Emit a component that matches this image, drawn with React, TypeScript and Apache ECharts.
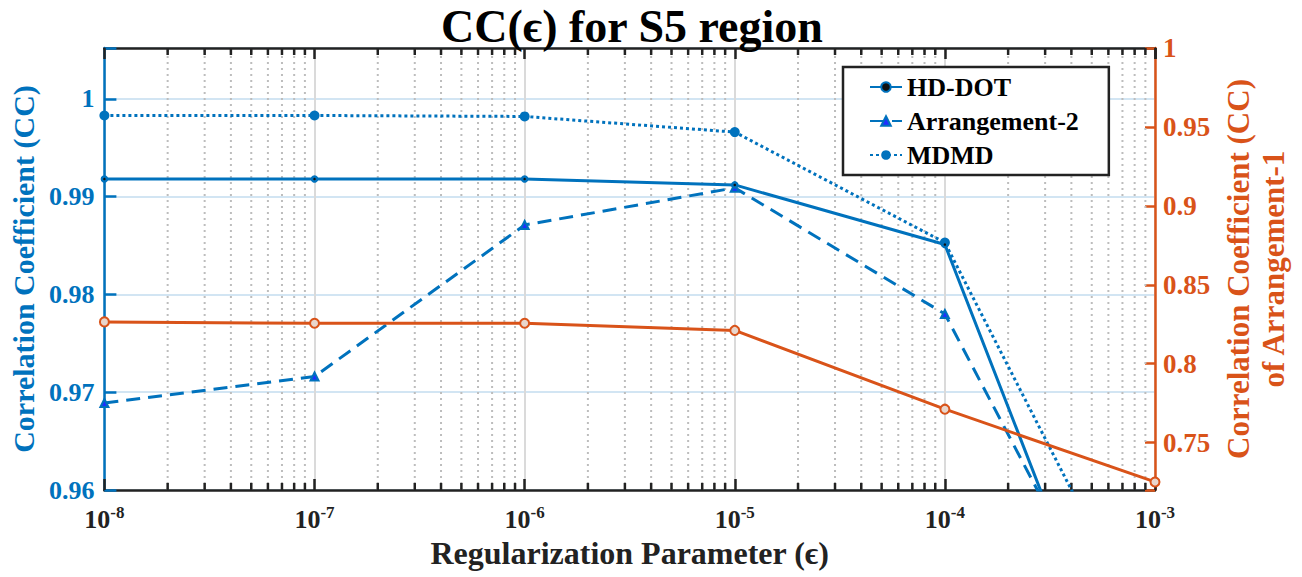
import React, { useEffect, useRef } from 'react';
import * as echarts from 'echarts';

// Regularization parameter values (x) and correlation coefficients per method
const EPSILON = [1e-8, 1e-7, 1e-6, 1e-5, 1e-4, 1e-3];
const HD_DOT = [0.9918, 0.9918, 0.9918, 0.9912, 0.9851, 0.9299];
const ARRANGEMENT_2 = [0.9689, 0.9716, 0.9871, 0.9909, 0.978, 0.9371];
const MDMD = [0.9983, 0.9983, 0.9982, 0.9966, 0.9853, 0.9433];
const ARRANGEMENT_1 = [0.8265, 0.8256, 0.8256, 0.8211, 0.7712, 0.7251];

// Axis ranges
const X_MIN = 1e-8;
const X_MAX = 1e-3;
const LEFT_MIN = 0.96;
const LEFT_MAX = 1.0052;
const RIGHT_MIN = 0.72;
const RIGHT_MAX = 1.0;

// Minor log ticks: 2..9 within each decade
const DECADES = [1e-8, 1e-7, 1e-6, 1e-5, 1e-4];
const MINOR_MULTIPLIERS = [2, 3, 4, 5, 6, 7, 8, 9];
const MINOR_TICKS = DECADES.flatMap((d) => MINOR_MULTIPLIERS.map((m) => m * d));

const BLUE = '#0072BD';
const ORANGE = '#D95319';
const FONT = 'Liberation Serif';

const pair = (ys: number[]) => EPSILON.map((x, i) => [x, ys[i]]);

export default function App() {
  const ref = useRef<HTMLDivElement>(null);

  useEffect(() => {
    if (!ref.current) return;
    const chart = echarts.init(ref.current, null, { renderer: 'svg' });

    const option: any = {
      animation: false,
      backgroundColor: '#fff',
      title: {
        text: 'CC(ϵ) for S5 region',
        left: 627,
        textAlign: 'center',
        top: -2,
        textStyle: { fontFamily: FONT, fontWeight: 'bold', fontSize: 46, color: '#000' },
      },
      legend: {
        data: ['HD-DOT', 'Arrangement-2', 'MDMD'],
        orient: 'vertical',
        left: 843,
        top: 67,
        backgroundColor: '#fff',
        borderColor: '#222',
        borderWidth: 2.5,
        borderRadius: 0,
        padding: [7, 30, 7, 26],
        itemWidth: 32,
        itemHeight: 12,
        itemGap: 8,
        textStyle: { fontFamily: FONT, fontWeight: 'bold', fontSize: 26, color: '#000' },
      },
      grid: { left: 100, right: 147, top: 48, bottom: 87, containLabel: false },
      xAxis: [
        {
          type: 'log',
          logBase: 10,
          min: X_MIN,
          max: X_MAX,
          splitNumber: 5,
          position: 'bottom',
          name: 'Regularization Parameter (ϵ)',
          nameLocation: 'middle',
          nameGap: 46,
          nameTextStyle: { fontFamily: FONT, fontWeight: 'bold', fontSize: 32, color: '#222' },
          axisLine: { show: true, onZero: false, lineStyle: { color: '#222', width: 2.5 } },
          axisTick: { show: true, inside: true, length: 11, lineStyle: { color: '#222', width: 2.5 } },
          minorTick: { show: false },
          splitLine: { show: true, lineStyle: { color: '#dadada', width: 2 } },
          axisLabel: {
            margin: 14,
            formatter: (v: number) => `{b|10}{s|${Math.round(Math.log10(v))}}`,
            rich: {
              b: { fontFamily: FONT, fontWeight: 'bold', fontSize: 26, color: '#222' },
              s: { fontFamily: FONT, fontWeight: 'bold', fontSize: 17, color: '#222', padding: [0, 0, 14, 0] },
            },
          },
        },
        {
          type: 'log',
          logBase: 10,
          min: X_MIN,
          max: X_MAX,
          splitNumber: 5,
          position: 'top',
          axisLine: { show: true, onZero: false, lineStyle: { color: '#222', width: 2.5 } },
          axisTick: { show: true, inside: true, length: 11, lineStyle: { color: '#222', width: 2.5 } },
          axisLabel: { show: false },
          splitLine: { show: false },
        },
      ],
      yAxis: [
        {
          type: 'value',
          position: 'left',
          min: LEFT_MIN,
          max: LEFT_MAX,
          interval: 0.01,
          name: 'Correlation Coefficient (CC)',
          nameLocation: 'middle',
          nameRotate: 90,
          nameGap: 57,
          nameTextStyle: { fontFamily: FONT, fontWeight: 'bold', fontSize: 30, color: BLUE },
          axisLine: { show: true, onZero: false, lineStyle: { color: BLUE, width: 2.5 } },
          axisTick: { show: true, inside: true, length: 12, lineStyle: { color: BLUE, width: 2.5 } },
          splitLine: { show: true, lineStyle: { color: '#d2e5f3', width: 2 } },
          axisLabel: {
            margin: 10,
            fontFamily: FONT,
            fontWeight: 'bold',
            fontSize: 26,
            color: BLUE,
            formatter: (v: number) =>
              Math.abs(v * 100 - Math.round(v * 100)) < 1e-6 ? String(Math.round(v * 100) / 100) : '',
          },
        },
        {
          type: 'value',
          position: 'right',
          min: RIGHT_MIN,
          max: RIGHT_MAX,
          splitNumber: 6,
          name: 'Correlation Coefficient (CC)\nof Arrangement-1',
          nameLocation: 'middle',
          nameRotate: 90,
          nameGap: 62,
          nameTextStyle: { fontFamily: FONT, fontWeight: 'bold', fontSize: 31, color: ORANGE, lineHeight: 35 },
          axisLine: { show: true, onZero: false, lineStyle: { color: ORANGE, width: 2.5 } },
          axisTick: { show: true, inside: true, length: 10, lineStyle: { color: ORANGE, width: 2.5 } },
          splitLine: { show: false },
          axisLabel: {
            margin: 8,
            fontFamily: FONT,
            fontWeight: 'bold',
            fontSize: 27,
            color: ORANGE,
            formatter: (v: number) =>
              Math.abs(v * 20 - Math.round(v * 20)) < 1e-6 ? String(Math.round(v * 20) / 20) : '',
          },
        },
      ],
      series: [
        {
          // minor log grid lines and ticks
          type: 'custom',
          silent: true,
          xAxisIndex: 0,
          yAxisIndex: 0,
          z: 1,
          data: MINOR_TICKS.map((v) => [v, LEFT_MIN]),
          renderItem: (_params: any, api: any) => {
            const x = api.value(0);
            const b = api.coord([x, LEFT_MIN]);
            const t = api.coord([x, LEFT_MAX]);
            return {
              type: 'group',
              children: [
                {
                  type: 'line',
                  shape: { x1: b[0], y1: b[1], x2: t[0], y2: t[1] },
                  style: { stroke: '#bdbdbd', lineWidth: 2, lineDash: [2, 4] },
                },
                {
                  type: 'line',
                  shape: { x1: b[0], y1: b[1], x2: b[0], y2: b[1] - 7 },
                  style: { stroke: '#222', lineWidth: 2.5 },
                },
                {
                  type: 'line',
                  shape: { x1: t[0], y1: t[1], x2: t[0], y2: t[1] + 7 },
                  style: { stroke: '#222', lineWidth: 2.5 },
                },
              ],
            };
          },
        },
        {
          name: 'HD-DOT',
          type: 'line',
          xAxisIndex: 0,
          yAxisIndex: 0,
          data: pair(HD_DOT),
          symbol: 'circle',
          symbolSize: 5,
          showAllSymbol: true,
          clip: true,
          z: 4,
          lineStyle: { color: BLUE, width: 3, type: 'solid' },
          itemStyle: { color: '#111', borderColor: BLUE, borderWidth: 2.5 },
        },
        {
          name: 'Arrangement-2',
          type: 'line',
          xAxisIndex: 0,
          yAxisIndex: 0,
          data: pair(ARRANGEMENT_2),
          symbol: 'triangle',
          symbolSize: 8,
          clip: true,
          z: 3,
          lineStyle: { color: BLUE, width: 3, type: [14, 8] },
          itemStyle: { color: '#1f2fff', borderColor: BLUE, borderWidth: 2 },
        },
        {
          name: 'MDMD',
          type: 'line',
          xAxisIndex: 0,
          yAxisIndex: 0,
          data: pair(MDMD),
          symbol: 'circle',
          symbolSize: 10,
          clip: true,
          z: 3,
          lineStyle: { color: BLUE, width: 3, type: [3, 3] },
          itemStyle: { color: BLUE, borderColor: BLUE, borderWidth: 0 },
        },
        {
          name: 'Arrangement-1',
          type: 'line',
          xAxisIndex: 0,
          yAxisIndex: 1,
          data: pair(ARRANGEMENT_1),
          symbol: 'circle',
          symbolSize: 9,
          clip: true,
          z: 5,
          lineStyle: { color: ORANGE, width: 3 },
          itemStyle: { color: '#e9d6cc', borderColor: ORANGE, borderWidth: 2 },
        },
      ],
    };

    chart.setOption(option);
    return () => chart.dispose();
  }, []);

  return (
    <div
      ref={ref}
      style={{ position: 'absolute', left: 0, top: 0, width: 1302, height: 577, background: '#fff' }}
    />
  );
}
